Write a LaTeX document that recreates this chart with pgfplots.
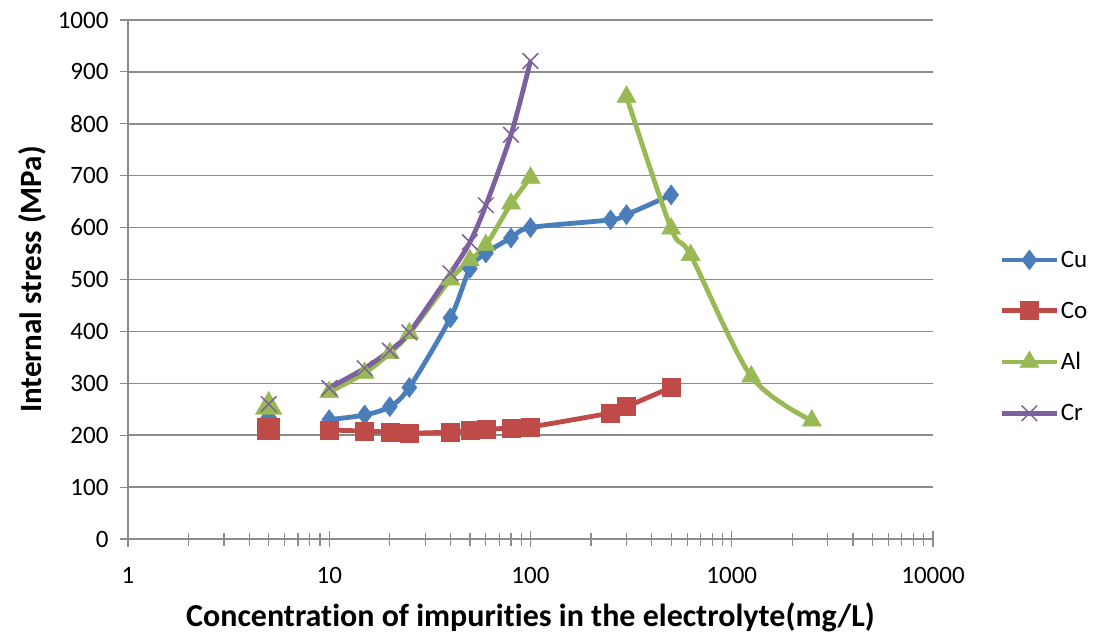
\documentclass[border=0pt]{standalone}
\usepackage{pgfplots}
\pgfplotsset{compat=1.18}
\usepackage{fontspec}
\setmainfont{Carlito}[Ligatures=NoCommon]
\definecolor{cuC}{HTML}{4A7EBB}
\definecolor{coC}{HTML}{BE4B48}
\definecolor{alC}{HTML}{98B954}
\definecolor{crC}{HTML}{7D60A0}
\definecolor{gridC}{HTML}{8C8C8C}
\begin{document}
\begin{tikzpicture}
\begin{axis}[
  name=ax,
  scale only axis,
  width=805pt, height=519pt,
  xmode=log, log basis x=10,
  xmin=1, xmax=10000, ymin=0, ymax=1000,
  xtick={1,10,100,1000,10000},
  xticklabels={1,10,100,1000,10000},
  minor xtick={2,3,4,5,6,7,8,9,20,30,40,50,60,70,80,90,200,300,400,500,600,700,800,900,2000,3000,4000,5000,6000,7000,8000,9000},
  ytick={0,100,...,1000},
  axis x line*=bottom, axis y line*=left,
  axis line style={gridC, line width=1.2pt},
  tick style={gridC, line width=1.2pt},
  tick align=center,
  major tick length=16pt,
  minor tick length=13pt,
  ymajorgrids,
  grid style={gridC, line width=1.5pt},
  tick label style={font=\fontsize{25}{30}\selectfont, black},
  /pgf/number format/assume math mode=true,
  /pgf/number format/1000 sep={},
  yticklabel style={xshift=-8pt},
  xticklabel style={yshift=-17pt},
  xlabel={\bfseries Concentration of impurities in the electrolyte(mg/L)},
  ylabel={\bfseries Internal stress (MPa)},
  label style={font=\fontsize{31}{36}\selectfont\bfseries},
  xlabel style={yshift=-12pt, font=\fontsize{32}{37}\selectfont\bfseries},
  ylabel style={yshift=5pt},
  legend style={draw=none, fill=none, at={(rel axis cs:1.083,0.39)}, anchor=west,
    font=\fontsize{25}{30}\selectfont, row sep=29pt, inner sep=0pt},
  legend cell align=left,
  legend image code/.code={\draw[mark repeat=2,mark phase=2] plot coordinates {(0pt,0pt) (27pt,0pt) (54pt,0pt)};},
  every axis plot/.append style={line width=4.8pt},
]
% Cu
\addplot[cuC, smooth, mark=diamond*, mark size=10pt, mark options={solid, line width=0.5pt}] coordinates {
 (10,230) (15,239) (20,255) (25,292) (40,426) (50,521) (60,551) (80,580) (100,600) (250,615) (300,625) (500,663)};
\addlegendentry{Cu}
% Co
\addplot[coC, smooth, mark=square*, mark size=9pt, mark options={solid, line width=0.5pt}] coordinates {
 (10,210) (15,208) (20,206) (25,204) (40,206) (50,209) (60,211) (80,214) (100,216) (250,243) (300,255) (500,292)};
\addlegendentry{Co}
% Al
\addplot[alC, smooth, mark=triangle*, mark size=11pt, mark options={solid, line width=0.5pt}] coordinates {
 (10,283) (15,320) (20,358) (25,396) (40,500) (50,537) (60,566) (80,646) (100,696)};
\addlegendentry{Al}
% Cr
\addplot[crC, smooth, mark=x, mark size=11pt, mark options={solid, line width=1.5pt}] coordinates {
 (10,291) (15,329) (20,363) (25,398) (40,512) (50,572) (60,643) (80,779) (100,921)};
\addlegendentry{Cr}
% isolated / second segments
\addplot[cuC, only marks, mark=diamond*, mark size=10pt, forget plot] coordinates {(5,228)};
\addplot[coC, only marks, mark=square*, mark size=9pt, forget plot] coordinates {(5,212)};
\addplot[alC, smooth, mark=triangle*, mark size=11pt, mark options={solid, line width=0.5pt}, forget plot] coordinates {
 (300,852) (500,598) (625,547) (1250,313) (2500,228)};
\addplot[alC, only marks, mark=triangle*, mark size=11pt, forget plot] coordinates {(5,255)};
\addplot[crC, only marks, mark=x, mark size=11pt, mark options={line width=1.5pt}, forget plot] coordinates {(5,260)};
\end{axis}
\pgfresetboundingbox
\path ([shift={(-128pt,-96pt)}]ax.south west) rectangle ([shift={(162pt,20pt)}]ax.north east);
\end{tikzpicture}
\end{document}
